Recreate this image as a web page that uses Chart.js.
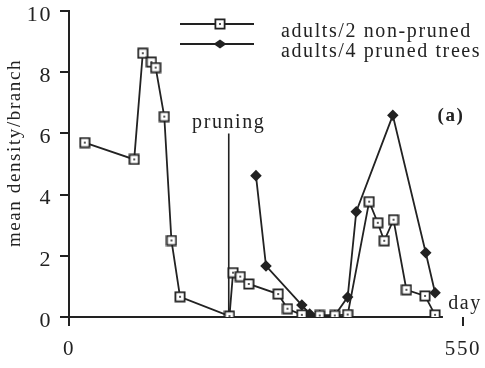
<!DOCTYPE html>
<html>
<head>
<meta charset="utf-8">
<script src="https://cdn.jsdelivr.net/npm/chart.js@4/dist/chart.umd.min.js"></script>
<style>
  body { margin: 0; background: #fff; }
  #wrap { width: 485px; height: 368px; }
</style>
</head>
<body>
<div id="wrap"><canvas id="grafico"></canvas></div>
<script>
const diasNaoPodadas = [22, 91, 103, 115, 121, 133, 143, 155, 224, 229, 239, 251, 292, 305, 325, 350, 371, 389, 419, 431, 440, 453, 471, 497, 511];
const densNaoPodadas = [5.7, 5.15, 8.62, 8.33, 8.15, 6.55, 2.5, 0.66, 0.03, 1.45, 1.32, 1.08, 0.75, 0.27, 0.07, 0.05, 0.05, 0.08, 3.77, 3.08, 2.49, 3.18, 0.89, 0.69, 0.07];

const diasPodadas = [261, 275, 325, 336, 350, 371, 389, 401, 452, 498, 511];
const densPodadas = [4.62, 1.67, 0.39, 0.1, 0.05, 0.05, 0.65, 3.44, 6.59, 2.1, 0.79];

const diaPoda = 223;
const topoPoda = 6.0;
const fimEixoX = 522;

const ticksX = [0, 550];
const ticksY = [0, 2, 4, 6, 8, 10];

const legendas = ['adults/2 non-pruned', 'adults/4 pruned trees'];

const FONTE = "'Liberation Serif', 'DejaVu Serif', serif";
const COR = '#222';

function paraPontos(dias, valores) {
  return dias.map((d, i) => ({ x: d, y: valores[i] }));
}

function criarQuadrado() {
  const c = document.createElement('canvas');
  c.width = 12;
  c.height = 12;
  const g = c.getContext('2d');
  g.fillStyle = '#fff';
  g.fillRect(1, 1, 10, 10);
  g.strokeStyle = COR;
  g.lineWidth = 1.8;
  g.strokeRect(1.4, 1.4, 9.2, 9.2);
  g.fillStyle = '#555';
  g.fillRect(5, 5, 2, 2);
  return c;
}

const quadrado = criarQuadrado();

function losango(ctx, x, y) {
  ctx.beginPath();
  ctx.moveTo(x - 6.5, y);
  ctx.lineTo(x, y - 4.5);
  ctx.lineTo(x + 6.5, y);
  ctx.lineTo(x, y + 4.5);
  ctx.closePath();
  ctx.fill();
}

const textos = {
  id: 'textos',
  beforeDraw(chart) {
    chart.ctx.letterSpacing = '1.6px';
  },
  beforeDatasetsDraw(chart) {
    const { ctx } = chart;
    const x = chart.scales.x;
    const y = chart.scales.y;
    // linha do zero, termina antes do fim da escala
    ctx.save();
    ctx.strokeStyle = COR;
    ctx.lineWidth = 2;
    ctx.beginPath();
    ctx.moveTo(x.getPixelForValue(0), y.getPixelForValue(0));
    ctx.lineTo(x.getPixelForValue(fimEixoX), y.getPixelForValue(0));
    ctx.stroke();
    ctx.restore();
  },
  afterDraw(chart) {
    const { ctx, chartArea } = chart;
    const x = chart.scales.x;
    const y = chart.scales.y;
    ctx.save();
    ctx.fillStyle = COR;
    ctx.strokeStyle = COR;

    // titulo do eixo y
    ctx.save();
    ctx.font = `19px ${FONTE}`;
    ctx.translate(15, 153);
    ctx.rotate(-Math.PI / 2);
    ctx.textAlign = 'center';
    ctx.textBaseline = 'middle';
    ctx.fillText('mean density/branch', 0, 0);
    ctx.restore();

    // legenda
    ctx.lineWidth = 2;
    [24, 44].forEach((ly, i) => {
      ctx.beginPath();
      ctx.moveTo(180, ly);
      ctx.lineTo(254, ly);
      ctx.stroke();
      if (i === 0) ctx.drawImage(quadrado, 220 - 6, ly - 6);
      else losango(ctx, 220, ly);
    });
    ctx.font = `20px ${FONTE}`;
    ctx.textAlign = 'left';
    ctx.textBaseline = 'alphabetic';
    ctx.fillText(legendas[0], 281, 37);
    ctx.fillText(legendas[1], 281, 57);

    ctx.textAlign = 'center';
    ctx.fillText('pruning', x.getPixelForValue(diaPoda), 128);
    ctx.fillText('day', chartArea.right + 2, y.getPixelForValue(0) - 8);

    ctx.font = `bold 19px ${FONTE}`;
    ctx.fillText('(a)', 451, 121);
    ctx.restore();
  }
};

new Chart(document.getElementById('grafico'), {
  type: 'line',
  data: {
    datasets: [
      {
        label: legendas[0],
        data: paraPontos(diasNaoPodadas, densNaoPodadas),
        borderColor: COR,
        borderWidth: 1.8,
        pointStyle: quadrado,
        pointRadius: 5,
        tension: 0
      },
      {
        label: legendas[1],
        data: paraPontos(diasPodadas, densPodadas),
        borderColor: COR,
        backgroundColor: COR,
        borderWidth: 1.8,
        pointStyle: 'rectRot',
        pointRadius: 4.5,
        tension: 0
      },
      {
        label: 'poda',
        data: [{ x: diaPoda, y: topoPoda }, { x: diaPoda, y: 0 }],
        borderColor: COR,
        borderWidth: 1.6,
        pointRadius: 0
      }
    ]
  },
  options: {
    responsive: true,
    maintainAspectRatio: false,
    animation: false,
    layout: { padding: { top: 11, right: 22, left: 0, bottom: 0 } },
    plugins: {
      legend: { display: false },
      tooltip: { enabled: false }
    },
    scales: {
      x: {
        type: 'linear',
        min: 0,
        max: 550,
        afterBuildTicks: s => { s.ticks = ticksX.map(v => ({ value: v })); },
        afterFit: s => { s.height = 51; s.paddingLeft = 0; s.paddingRight = 0; },
        border: { display: false },
        grid: { drawOnChartArea: false, tickLength: 9, color: COR, lineWidth: 2 },
        ticks: { color: COR, font: { family: FONTE, size: 21 }, padding: 11 }
      },
      y: {
        min: 0,
        max: 10,
        afterBuildTicks: s => { s.ticks = ticksY.map(v => ({ value: v })); },
        afterFit: s => { s.width = 69; s.paddingTop = 0; s.paddingBottom = 0; },
        border: { display: true, color: COR, width: 2 },
        grid: { drawOnChartArea: false, tickLength: 9, color: COR, lineWidth: 2 },
        ticks: { color: COR, font: { family: FONTE, size: 22 }, padding: 8, labelOffset: 4 }
      }
    }
  },
  plugins: [textos]
});
</script>
</body>
</html>
